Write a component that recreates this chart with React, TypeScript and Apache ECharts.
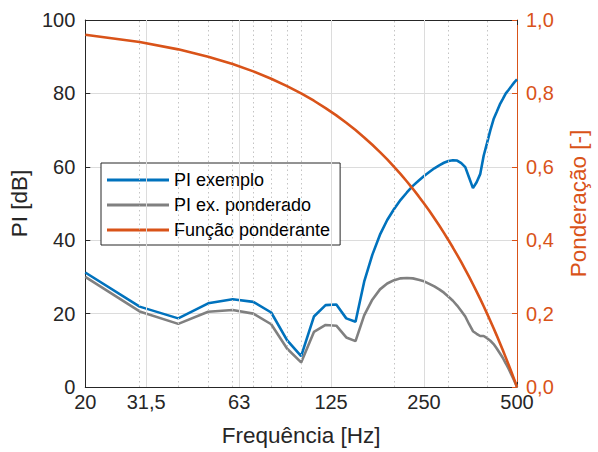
import React, { useEffect, useRef } from "react";
import * as echarts from "echarts";

const freqs = [20, 30, 40, 50, 60, 70, 80, 90, 100, 110, 120, 130, 140, 150, 160, 170, 180, 190, 200, 210, 220, 230, 240, 250, 260, 270, 280, 290, 300, 310, 320, 330, 340, 350, 360, 370, 380, 390, 400, 410, 420, 430, 440, 450, 460, 470, 480, 490, 500];

const piExemplo = [31.2, 21.9, 18.7, 22.8, 23.9, 23.2, 20.3, 12.8, 8.4, 19.2, 22.3, 22.5, 18.7, 17.8, 28.7, 36.0, 41.5, 45.5, 48.5, 51.0, 53.0, 54.8, 56.2, 57.5, 58.6, 59.6, 60.4, 61.1, 61.6, 61.8, 61.7, 61.0, 59.9, 57.0, 54.2, 55.8, 58.0, 63.0, 66.5, 70.0, 73.0, 75.0, 77.0, 78.5, 80.0, 81.0, 82.0, 83.0, 83.8];

const piPonderado = [30.0, 20.6, 17.2, 20.5, 21.0, 20.0, 17.1, 10.5, 6.7, 15.0, 16.9, 16.7, 13.5, 12.5, 19.5, 23.8, 26.6, 28.2, 29.1, 29.6, 29.7, 29.6, 29.2, 28.8, 28.1, 27.4, 26.6, 25.7, 24.6, 23.5, 22.2, 20.7, 19.2, 17.1, 15.2, 14.5, 13.9, 13.9, 13.3, 12.6, 11.7, 10.5, 9.2, 7.9, 6.4, 4.9, 3.3, 1.7, 0.0];

const ponderante = [0.96, 0.94, 0.92, 0.90, 0.88, 0.86, 0.84, 0.82, 0.80, 0.78, 0.76, 0.74, 0.72, 0.70, 0.68, 0.66, 0.64, 0.62, 0.60, 0.58, 0.56, 0.54, 0.52, 0.50, 0.48, 0.46, 0.44, 0.42, 0.40, 0.38, 0.36, 0.34, 0.32, 0.30, 0.28, 0.26, 0.24, 0.22, 0.20, 0.18, 0.16, 0.14, 0.12, 0.10, 0.08, 0.06, 0.04, 0.02, 0.0];

const xMajorTicks = [20, 31.5, 63, 125, 250, 500];
const xMinorGrid = [30, 40, 50, 60, 70, 80, 90, 100, 200, 300, 400];
const seriesNames = ["PI exemplo", "PI ex. ponderado", "Função ponderante"];

const FONT = "'Liberation Sans', Arial, Helvetica, sans-serif";
const AX = "#262626";
const BLUE = "#0072BD";
const GRAY = "#808080";
const ORANGE = "#D95319";

export default function App() {
  const ref = useRef<HTMLDivElement>(null);
  useEffect(() => {
    if (!ref.current) return;
    const chart = echarts.init(ref.current, undefined, { renderer: "svg" });
    const pairs = (ys: number[]) => freqs.map((f, i) => [f, ys[i]]);
    const fmtX = (v: number) => String(v).replace(".", ",");
    const gridMarks = [
      ...xMajorTicks.slice(1, -1).map((v) => ({ xAxis: v, lineStyle: { color: "#dcdcdc", width: 1, type: "solid" } })),
      ...xMinorGrid.map((v) => ({ xAxis: v, lineStyle: { color: "#c4c4c4", width: 1, type: [1.5, 3] } })),
    ];
    const option: any = {
      animation: false,
      backgroundColor: "#ffffff",
      textStyle: { fontFamily: FONT },
      grid: { left: 83, right: 74, top: 20, bottom: 65, containLabel: false },
      legend: {
        data: seriesNames,
        orient: "vertical",
        left: 101,
        top: 163,
        icon: "rect",
        itemWidth: 62,
        itemHeight: 3,
        itemGap: 5,
        padding: [7, 10, 5, 6],
        borderColor: AX,
        borderWidth: 1,
        borderRadius: 0,
        backgroundColor: "#ffffff",
        textStyle: { fontSize: 18, lineHeight: 20, color: "#000000", fontFamily: FONT },
      },
      xAxis: [
        {
          type: "log",
          logBase: 10,
          min: 20,
          max: 500,
          position: "bottom",
          name: "Frequência [Hz]",
          nameLocation: "middle",
          nameGap: 37,
          nameTextStyle: { fontSize: 22.5, color: AX, fontFamily: FONT },
          axisLine: { show: true, onZero: false, lineStyle: { color: AX, width: 1 } },
          axisTick: { show: true, inside: true, length: 5, customValues: xMajorTicks, lineStyle: { color: AX } },
          axisLabel: { customValues: xMajorTicks, formatter: fmtX, fontSize: 20, color: AX, margin: 5, fontFamily: FONT, hideOverlap: false, showMinLabel: true, showMaxLabel: true },
          splitLine: { show: false },
          minorTick: { show: false },
          minorSplitLine: { show: false },
        },
        {
          type: "log",
          logBase: 10,
          min: 20,
          max: 500,
          position: "top",
          axisLine: { show: true, onZero: false, lineStyle: { color: AX, width: 1 } },
          axisTick: { show: true, inside: true, length: 5, customValues: xMajorTicks, lineStyle: { color: AX } },
          axisLabel: { show: false },
          splitLine: { show: false },
        },
      ],
      yAxis: [
        {
          type: "value",
          min: 0,
          max: 100,
          interval: 20,
          position: "left",
          name: "PI [dB]",
          nameLocation: "middle",
          nameGap: 50,
          nameTextStyle: { fontSize: 22.5, color: AX, fontFamily: FONT },
          axisLine: { show: true, lineStyle: { color: AX, width: 1 } },
          axisTick: { show: true, inside: true, length: 5, lineStyle: { color: AX } },
          axisLabel: { fontSize: 20, color: AX, margin: 10, fontFamily: FONT },
          splitLine: { show: true, lineStyle: { color: "#dcdcdc", width: 1 } },
        },
        {
          type: "value",
          min: 0,
          max: 1,
          interval: 0.2,
          position: "right",
          name: "Ponderação [-]",
          nameLocation: "middle",
          nameGap: 50,
          nameTextStyle: { fontSize: 22.5, color: ORANGE, fontFamily: FONT },
          axisLine: { show: true, lineStyle: { color: ORANGE, width: 1 } },
          axisTick: { show: true, inside: true, length: 5, lineStyle: { color: ORANGE } },
          axisLabel: { fontSize: 20, color: ORANGE, margin: 9, fontFamily: FONT, formatter: (v: number) => v.toFixed(1).replace(".", ",") },
          splitLine: { show: false },
        },
      ],
      series: [
        {
          type: "line",
          name: "grid",
          xAxisIndex: 0,
          yAxisIndex: 0,
          data: [],
          silent: true,
          z: 0,
          markLine: { silent: true, symbol: ["none", "none"], label: { show: false }, animation: false, data: gridMarks },
        },
        {
          type: "line",
          name: seriesNames[0],
          xAxisIndex: 0,
          yAxisIndex: 0,
          data: pairs(piExemplo),
          symbol: "none",
          lineStyle: { color: BLUE, width: 2.6 },
          itemStyle: { color: BLUE },
          z: 4,
        },
        {
          type: "line",
          name: seriesNames[1],
          xAxisIndex: 0,
          yAxisIndex: 0,
          data: pairs(piPonderado),
          symbol: "none",
          lineStyle: { color: GRAY, width: 2.6 },
          itemStyle: { color: GRAY },
          z: 3,
        },
        {
          type: "line",
          name: seriesNames[2],
          xAxisIndex: 0,
          yAxisIndex: 1,
          data: pairs(ponderante),
          symbol: "none",
          lineStyle: { color: ORANGE, width: 2.6 },
          itemStyle: { color: ORANGE },
          z: 5,
        },
      ],
    };
    chart.setOption(option);
    return () => chart.dispose();
  }, []);
  return (
    <div
      ref={ref}
      style={{ position: "fixed", left: 0, top: 0, width: 598, height: 452, background: "#fff" }}
    />
  );
}
